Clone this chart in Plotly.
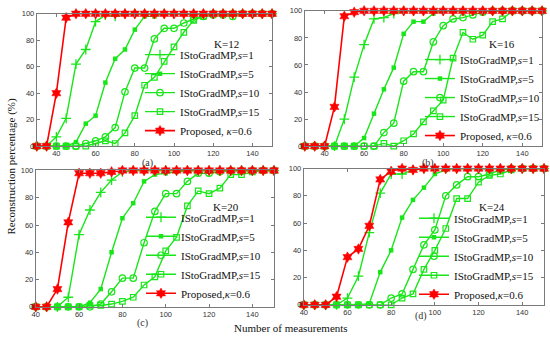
import plotly.graph_objects as go

# ---------------- data ----------------
x_ab = list(range(30, 151, 5))   # panels (a),(b)
x_cd = list(range(40, 151, 5))   # panels (c),(d)

# Panel (a) K=12
a_s1 = [0, 0, 7, 21, 62, 73, 94, 99, 98, 100, 100, 100, 100, 100, 100, 100, 100, 100, 100, 100, 100, 100, 100, 100, 100]
a_s5 = [0, 0, 0, 0, 3, 17, 23, 48, 66, 73, 88, 98, 98, 100, 100, 100, 100, 100, 100, 100, 100, 100, 100, 100, 100]
a_s10 = [0, 0, 0, 0, 0, 2, 4, 7, 14, 41, 59, 59, 81, 89, 89, 93, 96, 98, 99, 99, 98, 100, 100, 100, 100]
a_s15 = [0, 0, 0, 0, 0, 0, 2, 4, 2, 10, 23, 46, 52, 64, 75, 86, 95, 98, 100, 100, 100, 100, 100, 100, 100]
a_prop = [0, 0, 40, 97, 100, 100, 100, 100, 100, 100, 100, 100, 100, 100, 100, 100, 100, 100, 100, 100, 100, 100, 100, 100, 100]

# Panel (b) K=16
b_s1 = [0, 0, 0, 0, 20, 51, 75, 94, 95, 98, 100, 100, 100, 100, 100, 100, 100, 100, 100, 100, 100, 100, 100, 100, 100]
b_s5 = [0, 0, 0, 0, 0, 0, 6, 24, 42, 58, 83, 92, 92, 98, 100, 100, 100, 100, 100, 100, 100, 100, 100, 100, 100]
b_s10 = [0, 0, 0, 0, 0, 0, 0, 0, 10, 17, 48, 55, 55, 77, 89, 94, 95, 97, 99, 100, 100, 100, 100, 100, 100]
b_s15 = [0, 0, 0, 0, 0, 0, 0, 0, 2, 0, 4, 9, 18, 26, 34, 65, 84, 79, 82, 92, 94, 100, 100, 100, 100]
b_prop = [0, 0, 0, 29, 96, 99, 100, 100, 100, 100, 100, 100, 100, 100, 100, 100, 100, 100, 100, 100, 100, 100, 100, 100, 100]

# Panel (c) K=20
c_s1 = [0, 0, 0, 7, 53, 71, 84, 93, 99, 100, 100, 100, 100, 100, 100, 100, 100, 100, 100, 100, 100, 100, 100]
c_s5 = [0, 0, 0, 0, 0, 3, 13, 40, 65, 76, 92, 97, 98, 99, 100, 100, 100, 100, 100, 100, 100, 100, 100]
c_s10 = [0, 0, 0, 0, 0, 0, 2, 11, 21, 21, 47, 70, 83, 83, 92, 98, 98, 99, 100, 100, 100, 100, 100]
c_s15 = [0, 0, 0, 0, 0, 1, 1, 2, 4, 7, 16, 22, 41, 51, 74, 85, 83, 87, 97, 97, 99, 100, 100]
c_prop = [0, 0, 13, 62, 98, 98, 98, 99, 100, 100, 100, 100, 100, 100, 100, 100, 100, 100, 100, 100, 100, 100, 100]

# Panel (d) K=24
d_s1 = [0, 0, 0, 0, 5, 21, 53, 82, 96, 96, 99, 100, 100, 100, 100, 100, 100, 100, 100, 100, 100, 100, 100]
d_s5 = [0, 0, 0, 0, 0, 0, 1, 24, 40, 64, 77, 86, 96, 99, 100, 100, 100, 100, 100, 100, 100, 100, 100]
d_s10 = [0, 0, 0, 0, 0, 0, 0, 0, 5, 8, 26, 44, 55, 80, 88, 94, 94, 96, 99, 100, 100, 100, 100]
d_s15 = [0, 0, 0, 0, 0, 0, 0, 0, 0, 5, 8, 26, 40, 56, 78, 78, 90, 95, 96, 99, 100, 100, 100]
d_prop = [0, 0, 0, 6, 35, 41, 58, 92, 98, 100, 99, 100, 100, 100, 100, 100, 100, 100, 100, 100, 100, 100, 100]

k_labels = ["K=12", "K=16", "K=20", "K=24"]
panel_labels = ["(a)", "(b)", "(c)", "(d)"]
series_names = ["IStoGradMP,<i>s</i>=1", "IStoGradMP,<i>s</i>=5",
                "IStoGradMP,<i>s</i>=10", "IStoGradMP,<i>s</i>=15"]
prop_names = ["Proposed, <i>κ</i>=0.6", "Proposed, <i>κ</i>=0.6",
              "Proposed,<i>κ</i>=0.6", "Proposed,<i>κ</i>=0.6"]
x_ticks = [40, 60, 80, 100, 120, 140]
y_ticks = [0, 20, 40, 60, 80, 100]

panels = [
    (x_ab, [a_s1, a_s5, a_s10, a_s15], a_prop, [30, 150]),
    (x_ab, [b_s1, b_s5, b_s10, b_s15], b_prop, [30, 150]),
    (x_cd, [c_s1, c_s5, c_s10, c_s15], c_prop, [40, 150]),
    (x_cd, [d_s1, d_s5, d_s10, d_s15], d_prop, [40, 150]),
]

# ---------------- style ----------------
W, H = 550, 341
GREEN = "#19e619"
RED = "#ff0000"
SERIF = "Liberation Serif, Times New Roman, serif"
SANS = "Liberation Sans, Arial, sans-serif"
AXC = "#7a7a7a"

# pixel boxes of plot areas: (left, right, top, bottom)
boxes = [(33, 270, 10, 146), (303, 542, 7, 146), (32, 272, 171, 311), (302, 544, 169, 309)]
# legend (left px, bottom px)
legend_pos = [(137, 145), (419, 150), (138, 312), (413, 313)]
k_pos = [(224, 41), (502, 41), (224, 209), (492, 209)]
lab_pos = [(145, 163), (427, 163), (140, 328), (420, 320)]

symbols = [
    dict(symbol="cross-thin", size=7, line=dict(width=1.3, color=GREEN)),
    dict(symbol="square", size=4.5),
    dict(symbol="circle-open", size=6.5, line=dict(width=1.2)),
    dict(symbol="square-open", size=5.5, line=dict(width=1.2)),
]

fig = go.Figure()
layout = dict(width=W, height=H, margin=dict(l=0, r=0, t=0, b=0),
              paper_bgcolor="white", plot_bgcolor="white", showlegend=True,
              annotations=[])

for i, (xs, greens, prop, xr) in enumerate(panels):
    sfx = "" if i == 0 else str(i + 1)
    xa, ya = "x" + sfx, "y" + sfx
    lg = "legend" + sfx
    for j, ys in enumerate(greens):
        m = dict(color=GREEN, **symbols[j])
        fig.add_trace(go.Scatter(x=xs, y=ys, xaxis=xa, yaxis=ya, mode="lines+markers",
                                 name=series_names[j], legend=lg, cliponaxis=False,
                                 line=dict(color=GREEN, width=1.4), marker=m))
    fig.add_trace(go.Scatter(x=xs, y=prop, xaxis=xa, yaxis=ya, mode="lines+markers",
                             name=prop_names[i], legend=lg, cliponaxis=False,
                             line=dict(color=RED, width=1.6),
                             marker=dict(symbol="hexagram", size=8, color=RED,
                                         line=dict(width=0.5, color=RED))))
    l, r, t, b = boxes[i]
    axcommon = dict(showline=True, linecolor=AXC, linewidth=1, mirror="ticks",
                    ticks="inside", ticklen=3, tickcolor=AXC, showgrid=False,
                    zeroline=False, tickfont=dict(family=SANS, size=7.5, color="#333"))
    layout["xaxis" + sfx] = dict(domain=[l / W, r / W], anchor=ya, range=xr,
                                 tickvals=x_ticks, **axcommon)
    layout["yaxis" + sfx] = dict(domain=[1 - b / H, 1 - t / H], anchor=xa, range=[0, 100],
                                 tickvals=y_ticks, **axcommon)
    lx, lb = legend_pos[i]
    layout[lg] = dict(x=lx / W, y=1 - lb / H, xanchor="left", yanchor="bottom",
                      bgcolor="rgba(255,255,255,0)", borderwidth=0,
                      font=dict(family=SERIF, size=11, color="#111"),
                      itemwidth=30, tracegroupgap=0)
    kx, ky = k_pos[i]
    layout["annotations"].append(dict(text=k_labels[i], x=kx / W, y=1 - ky / H,
                                      xref="paper", yref="paper", showarrow=False,
                                      xanchor="center", yanchor="middle",
                                      font=dict(family=SERIF, size=11, color="#111")))
    px_, py_ = lab_pos[i]
    layout["annotations"].append(dict(text=panel_labels[i], x=px_ / W, y=1 - py_ / H,
                                      xref="paper", yref="paper", showarrow=False,
                                      xanchor="center", yanchor="middle",
                                      font=dict(family=SERIF, size=10, color="#333")))

layout["annotations"].append(dict(text="Reconstruction percentage (%)", x=8 / W, y=1 - 166 / H,
                                  xref="paper", yref="paper", showarrow=False, textangle=-90,
                                  xanchor="center", yanchor="middle",
                                  font=dict(family=SERIF, size=11, color="#111")))
layout["annotations"].append(dict(text="Number of measurements", x=289 / W, y=1 - 333 / H,
                                  xref="paper", yref="paper", showarrow=False,
                                  xanchor="center", yanchor="middle",
                                  font=dict(family=SERIF, size=11, color="#111")))

fig.update_layout(**layout)
fig.write_html("out.html", config={"displayModeBar": False},
               post_script="document.body.style.margin='0';document.body.style.overflow='hidden';")
